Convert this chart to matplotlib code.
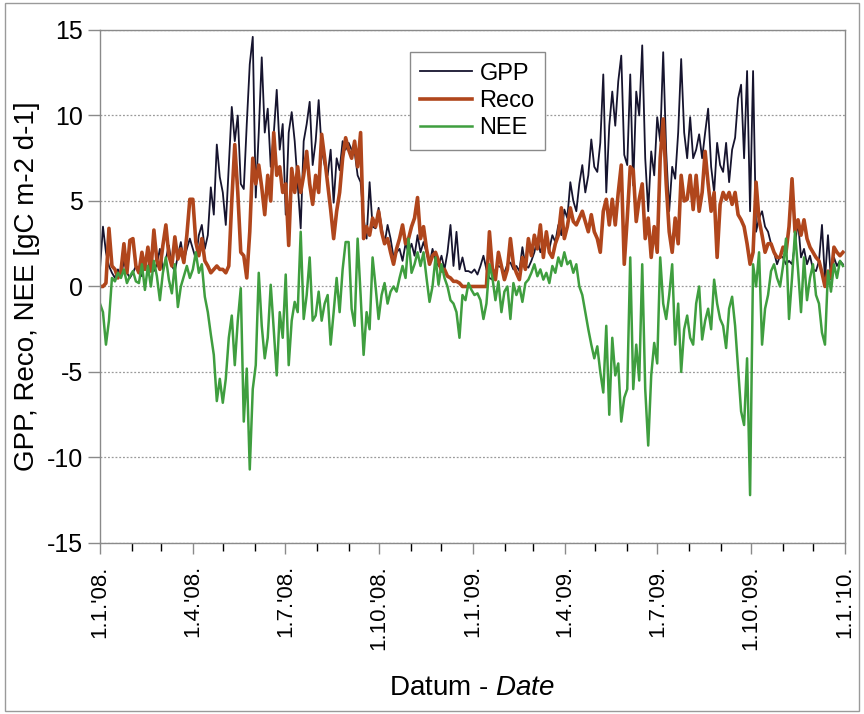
import numpy as np
import pandas as pd
import matplotlib
matplotlib.use("Agg")
import matplotlib.pyplot as plt
import matplotlib.dates as mdates
from matplotlib.ticker import FuncFormatter
from matplotlib.patches import Rectangle

plt.rcParams["font.family"] = ["Liberation Sans", "DejaVu Sans"]
plt.rcParams["mathtext.fontset"] = "custom"
plt.rcParams["mathtext.it"] = "Liberation Sans:italic"
plt.rcParams["mathtext.rm"] = "Liberation Sans"
plt.rcParams["axes.unicode_minus"] = False

# values, roughly every 3 days, Jan 2008 .. Dec 2009
gpp = [1.0, 3.5, 2.0, 1.2, 0.8, 0.5, 1.0, 0.6, 1.5, 0.8, 0.5,
       0.8, 1.2, 1.0, 0.6, 1.5, 1.0, 1.8, 0.9, 1.3, 2.2, 1.0, 1.6, 2.4, 1.2, 0.9, 1.8, 2.6, 1.5, 2.2, 2.8,
       2.2, 1.6, 3.0, 3.6, 2.2, 3.0, 5.8, 4.2, 8.3, 6.4,
       5.5, 3.6, 7.0, 10.5, 8.5, 10.0, 6.0, 5.7, 9.5, 13.0, 14.6, 5.2, 9.0, 13.4, 9.0, 10.4, 7.0, 8.9, 11.5, 8.0,
       9.5, 4.2, 9.0, 10.2, 8.5, 6.0, 3.4, 8.5, 9.5, 10.8, 7.1, 8.5, 10.9, 8.0, 7.1, 6.5, 8.0, 4.9, 7.5, 6.8, 8.5, 8.0,
       8.4, 8.0, 7.9, 6.5, 6.1, 4.0, 2.8, 6.1, 3.5, 3.4, 4.6, 3.5, 2.5, 3.6, 2.8, 1.7, 2.0, 2.2, 1.5, 2.5,
       2.0, 2.5, 1.8, 3.0, 2.0, 2.6, 2.0, 1.3, 2.2, 1.5, 1.2, 1.8, 1.0, 2.0, 3.6, 1.2, 3.2, 1.0, 1.7, 0.9,
       0.9, 0.8, 1.0, 0.7, 1.2,
       1.8, 1.0, 0.5, 0.4, 1.0, 1.2, 1.1, 0.8, 1.3, 1.4, 1.0, 1.2, 0.9, 2.3, 1.2, 1.1, 1.5, 2.0, 2.8, 2.0,
       2.5, 3.0, 2.2, 3.0, 2.6, 3.6, 3.0, 4.5, 4.0, 6.1, 5.0, 4.4, 6.0, 7.1, 5.5, 6.5, 8.6, 7.0, 6.7, 8.4,
       12.4, 5.5, 9.4,
       11.4, 9.4, 12.0, 13.5, 7.7, 7.1, 12.4, 5.9, 11.4, 10.0, 14.1, 7.5, 4.4, 7.9, 6.5, 9.9, 8.5, 13.7, 7.9, 4.4,
       7.0, 6.3, 9.0, 13.3, 9.0, 7.5, 9.9, 7.5, 8.0, 8.9, 7.5, 9.0, 10.4, 7.0, 5.5, 8.4, 7.1,
       6.7, 8.4, 6.1, 8.0, 8.7, 11.0, 11.8, 7.5, 12.6, 4.4, 12.6, 3.2, 4.0, 4.4, 3.5, 3.2, 2.5, 2.0, 1.3, 1.8,
       1.7, 1.3, 1.5, 1.3, 2.5, 3.8, 1.7, 2.2, 1.3, 1.8, 1.0, 0.9, 1.5, 3.6, 0.4, 3.0, 0.4, 1.7, 1.2, 1.5, 1.3]

reco = [0.0, 0.0, 0.2, 3.4, 1.2, 1.0, 0.5, 0.9, 2.5, 0.8, 2.7,
        2.8, 1.2, 0.8, 2.0, 1.0, 2.3, 0.9, 3.3, 1.5, 1.0, 2.4, 3.6, 1.8, 1.2, 2.9, 1.6, 2.2, 1.4, 3.0, 5.1,
        5.1, 2.6, 1.8, 2.8, 1.5, 1.2, 0.8, 1.0, 1.2, 1.0,
        1.0, 0.8, 1.2, 5.0, 8.3, 5.5, 2.0, 1.8, 0.5, 3.2, 7.5, 6.0, 7.1, 5.8, 4.2, 6.5, 5.0, 9.0, 6.5, 7.0,
        5.5, 6.0, 2.4, 6.9, 5.5, 7.0, 5.5, 6.5, 7.9, 6.0, 4.8, 6.5, 5.5, 8.9, 7.5, 6.0, 4.5, 2.8, 4.4, 5.5, 7.5, 8.7,
        8.0, 7.5, 8.5, 7.0, 9.0, 2.8, 3.5, 3.0, 4.0, 3.5, 4.4, 3.2, 2.5, 2.8, 2.0, 1.3, 2.2, 2.8, 3.6, 2.5,
        2.8, 3.5, 4.0, 5.2, 2.8, 3.5, 2.2, 1.3, 1.8, 2.0, 1.5, 0.9, 1.0, 0.6, 0.5, 0.3, 0.3, 0.2, 0.0, 0.0,
        0.0, 0.0, 0.0, 0.0, 0.0,
        0.0, 0.0, 3.2, 1.0, 0.4, 2.0, 1.2, 0.4, 1.0, 2.8, 1.3, 0.8, 0.4, 1.7, 1.0, 2.8, 1.8, 3.0, 2.2, 3.6,
        1.7, 3.2, 2.0, 1.7, 2.5, 3.0, 4.6, 2.8, 3.5, 4.6, 3.8, 3.6, 4.0, 4.4, 3.8, 3.2, 4.2, 3.2, 2.8, 2.0,
        4.4, 5.1, 3.6,
        5.1, 3.6, 5.5, 7.1, 1.3, 4.0, 7.0, 6.8, 3.8, 5.1, 6.0, 2.8, 4.0, 1.7, 3.5, 2.0, 7.5, 9.8, 6.0, 3.2,
        2.0, 4.0, 2.5, 6.5, 5.0, 5.1, 6.5, 4.5, 6.5, 4.4, 5.5, 7.9, 6.0, 4.4, 5.5, 1.7, 4.8,
        5.5, 5.1, 5.5, 4.8, 5.5, 4.2, 3.9, 3.5, 2.5, 1.3, 2.0, 6.1, 3.9, 3.0, 2.0, 2.5, 2.5, 2.0, 1.7, 1.7,
        2.3, 2.0, 3.5, 6.3, 3.2, 3.9, 3.0, 3.9, 2.8, 2.3, 2.0, 1.7, 1.5, 0.8, 0.0, 0.9, 0.5, 2.3, 2.0, 1.8, 2.0]

nee = [-1.0, -1.5, -3.4, -2.0, 0.5, 0.3, 0.8, 0.5, 1.0, 0.2, 0.6,
       0.9, 0.3, 0.2, 1.3, -0.2, 1.2, 0.0, 1.5, 0.6, -0.8, 0.8, 1.7, 0.4, -0.4, 1.3, -1.2, 0.0, 0.6, 1.2, 0.5,
       1.0, 2.0, 0.8, 1.3, -0.6, -1.5, -2.8, -4.0, -6.7, -5.4,
       -6.8, -5.4, -3.0, -1.7, -4.6, -2.0, -0.1, -7.9, -4.8, -10.7, -6.0, -4.6, 0.8, -2.3, -4.2, -3.0, 0.1, -2.5, -5.2, -1.5,
       -3.0, 0.7, -4.6, -2.0, -0.9, -1.5, 3.2, -1.9, -0.5, 1.7, -2.0, -1.7, -0.3, -2.0, -1.0, -0.5, -3.4, -1.5, 0.5, -1.5, 1.0, 2.6,
       2.6, -1.3, -2.3, 2.8, -0.5, -4.0, -1.5, -2.5, 1.7, 0.0, -1.9, -0.5, 0.2, -1.0, -0.3, 0.0, -0.3, 0.5, 1.2, 0.5,
       2.8, 0.8, 1.3, 2.0, 1.2, 2.0, 0.5, -0.9, 0.0, 1.7, 0.1, 1.3, 0.5, 0.0, -0.8, -1.0, -1.5, -3.0, -0.5, -0.8,
       0.2, -0.2, -0.5, -0.4, -0.8,
       -1.9, -1.0, 1.3, 0.5, -0.8, 0.3, -1.5, -0.3, 0.0, -1.9, 0.2, -0.5, 0.0, -0.9, 0.2, 0.4, 0.8, 1.3, 0.6, 1.0,
       0.4, 0.8, 0.2, 1.2, 0.8, 1.7, 1.2, 2.0, 1.3, 1.5, 0.8, 1.3, 0.0, -0.5, -1.5, -2.5, -3.4, -4.2, -3.5, -5.0,
       -6.2, -2.3, -7.5,
       -3.0, -5.2, -4.5, -7.9, -6.5, -6.0, 1.7, -6.0, -3.4, -5.5, 1.3, -6.0, -9.3, -5.2, -3.3, -4.5, 1.7, -1.0, -1.9, -0.5,
       1.3, -3.4, -1.0, -5.0, -2.5, -1.7, -3.0, -3.4, -1.0, 0.0, -3.1, -2.0, -1.3, -2.5, 0.4, -1.0, -1.9,
       -2.3, -3.6, -1.3, -0.6, -2.3, -4.8, -7.3, -8.1, -4.2, -12.2, 1.3, 0.0, 2.0, -3.4, -1.3, -0.5, 0.9, 1.3, 0.5, 0.0,
       1.2, 2.8, -1.9, 0.5, 3.2, 1.0, -1.5, 1.7, -0.8, 0.5, 1.3, -0.5, -1.0, -2.7, -3.4, 0.9, -0.3, 1.3, 0.5, 1.5, 1.2]

dates = pd.date_range("2008-01-01", "2009-12-30", periods=len(gpp))

fig = plt.figure(figsize=(8.64, 7.14), dpi=100)
fig.patches.append(Rectangle((0.006, 0.004), 0.988, 0.992, transform=fig.transFigure,
                             fill=False, edgecolor="#9a9a9a", linewidth=1.0))
ax = fig.add_axes([0.1157, 0.2395, 0.8623, 0.7185])

ax.plot(dates, gpp, color="#16142e", lw=1.3, label="GPP")
ax.plot(dates, reco, color="#b0461c", lw=2.6, label="Reco")
ax.plot(dates, nee, color="#3f9e3f", lw=1.8, label="NEE")

ax.set_xlim(pd.Timestamp("2008-01-01"), pd.Timestamp("2010-01-01"))
ax.set_ylim(-15, 15)
ax.set_yticks(np.arange(-15, 16, 5))
ax.yaxis.grid(True, linestyle=(0, (1.5, 1.5)), color="#9a9a9a", linewidth=0.9)

ax.xaxis.set_major_locator(mdates.MonthLocator(bymonth=[1, 4, 7, 10]))
ax.xaxis.set_minor_locator(mdates.MonthLocator())
ax.xaxis.set_major_formatter(FuncFormatter(
    lambda v, p: "{}.{}.'{:02d}.".format(mdates.num2date(v).day, mdates.num2date(v).month,
                                         mdates.num2date(v).year % 100)))

for s in ax.spines.values():
    s.set_color("#8a8a8a")
    s.set_linewidth(1.0)
ax.tick_params(axis="both", colors="#8a8a8a", labelcolor="black")
ax.tick_params(axis="y", length=9, width=1.0, labelsize=18, pad=3)
ax.tick_params(axis="x", which="major", length=8, width=1.0, rotation=90, pad=8, labelsize=16)
ax.tick_params(axis="x", which="minor", length=6, width=1.0)

ax.set_ylabel("GPP, Reco, NEE [gC m-2 d-1]", fontsize=20, labelpad=5)
ax.set_xlabel("Datum - $\\mathit{Date}$", fontsize=20, labelpad=18)

leg = ax.legend(loc="upper left", bbox_to_anchor=(0.40, 0.98), fontsize=17,
                fancybox=False, edgecolor="#8a8a8a", framealpha=1,
                handlelength=2.2, handletextpad=0.3, borderpad=0.45, labelspacing=0.22)
leg.get_frame().set_linewidth(1.0)

fig.savefig("out.png", dpi=100)
